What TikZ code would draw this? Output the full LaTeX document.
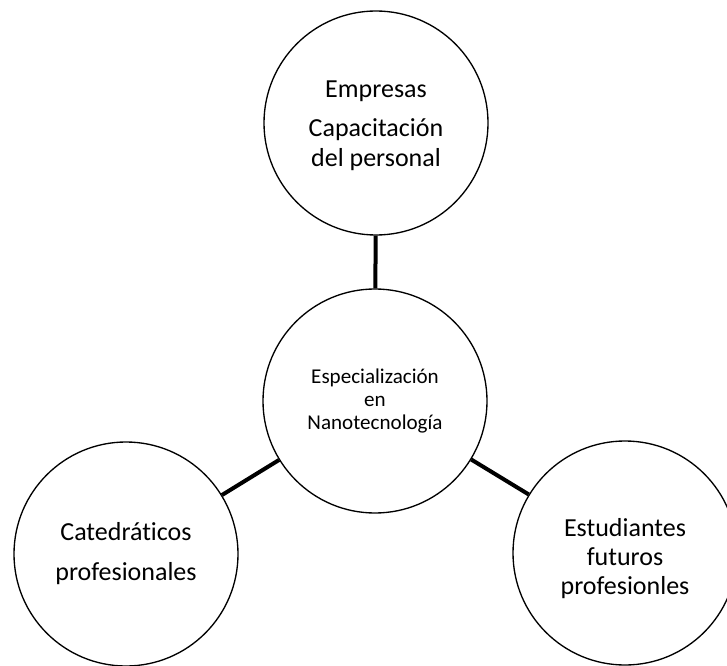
\documentclass[tikz,border=0pt]{standalone}
\usepackage{fontspec}
\setmainfont[Ligatures=NoCommon,RawFeature=-liga]{Carlito}
\begin{document}
\begin{tikzpicture}[x=0.75pt,y=-0.75pt,
  bubble/.style={circle,draw=black,line width=1pt,minimum size=168pt,inner sep=0pt,align=center,
    font=\fontsize{19.5}{22.5}\selectfont},
  hub/.style={bubble,font=\fontsize{15.8}{17.25}\selectfont},
  conn/.style={line width=3pt,black}]
\useasboundingbox (0,0) rectangle (727,666);
\clip (0,0) rectangle (727,666);
\node[bubble] (emp) at (376,123) {\rule{0pt}{17pt}Empresas\\[7pt]Capacitación\\del personal};
\node[hub] (esp) at (375,401) {Especialización\\en\\Nanotecnología};
\node[bubble] (cat) at (126,554) {Catedráticos\\[7.5pt]profesionales};
\node[bubble] (est) at (625,553) {\rule{0pt}{22pt}Estudiantes\\[-0.5pt]futuros\\[-0.5pt]profesionles};
\draw[conn] (emp) -- (esp);
\draw[conn] (esp) -- (cat);
\draw[conn] (esp) -- (est);
\end{tikzpicture}
\end{document}
